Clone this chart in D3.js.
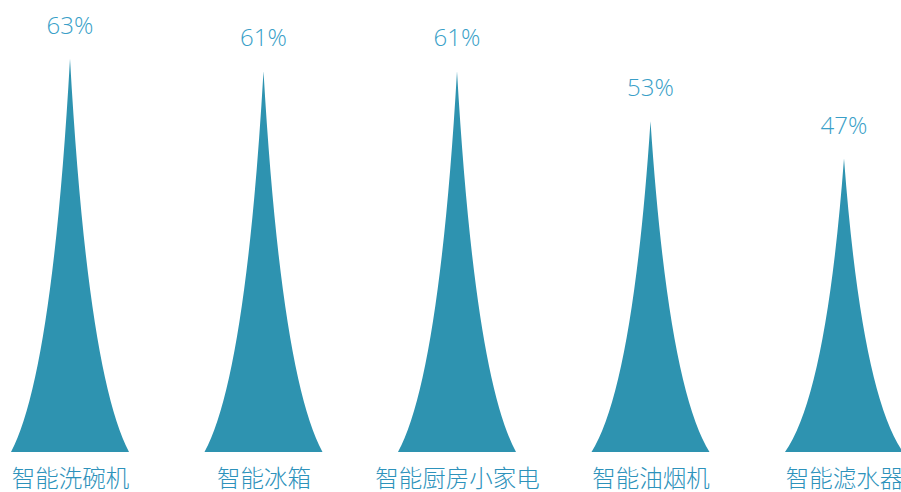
<!DOCTYPE html>
<html>
<head>
<meta charset="utf-8">
<script src="https://cdn.jsdelivr.net/npm/d3@7"></script>
<style>
  html, body { margin: 0; padding: 0; background: #fff; }
  #chartDiv { width: 901px; height: 492px; }
</style>
</head>
<body>
<div id="chartDiv"></div>
<script>
// chart data
const categories = ['智能洗碗机', '智能冰箱', '智能厨房小家电', '智能油烟机', '智能滤水器']
const values = [63, 61, 61, 53, 47]
const valueLabels = ['63%', '61%', '61%', '53%', '47%']

const width = 901
const height = 492
const margin = { top: 15, right: 58, bottom: 40, left: 70 }
const barWidth = 118

const svg = d3.select('#chartDiv')
  .append('svg')
  .attr('width', width)
  .attr('height', height)

// category positions (no boundary gap, first and last sit on the edges)
const xScale = d3.scalePoint()
  .domain(categories)
  .range([margin.left, width - margin.right + 1])

const yScale = d3.scaleLinear()
  .domain([0, 70])
  .range([height - margin.bottom, margin.top])

// concave "peak" shape, quadratic sides
const peakPath = (cx, v) => {
  const y0 = yScale(0)
  const y1 = yScale(v)
  const hw = barWidth / 2
  const cy = y0 - 0.2 * (y0 - y1)
  return `M${cx - hw},${y0} Q${cx - 0.3 * hw},${cy} ${cx},${y1} Q${cx + 0.3 * hw},${cy} ${cx + hw},${y0} Z`
}

const data = categories.map((c, i) => ({ name: c, value: values[i], label: valueLabels[i] }))

svg.append('g')
  .selectAll('path')
  .data(data)
  .enter()
  .append('path')
  .attr('d', d => peakPath(xScale(d.name), d.value))
  .attr('fill', '#2e93b0')

// value labels above each peak
svg.append('g')
  .selectAll('text')
  .data(data)
  .enter()
  .append('text')
  .attr('x', d => xScale(d.name))
  .attr('y', d => yScale(d.value) - 25)
  .attr('text-anchor', 'middle')
  .attr('fill', '#3a9fc8')
  .style('font-family', '"Open Sans", "Noto Sans", sans-serif')
  .style('font-weight', 300)
  .style('font-size', '24px')
  .text(d => d.label)

// category labels (axis without line or ticks)
const xAxis = d3.axisBottom(xScale).tickSize(0).tickPadding(18)
const axisG = svg.append('g')
  .attr('transform', `translate(0,${yScale(0)})`)
  .call(xAxis)
axisG.select('.domain').remove()
axisG.selectAll('text')
  .attr('fill', '#2d92bb')
  .style('font-family', '"Noto Sans CJK SC", sans-serif')
  .style('font-weight', 300)
  .style('font-size', '23.5px')
</script>
</body>
</html>
